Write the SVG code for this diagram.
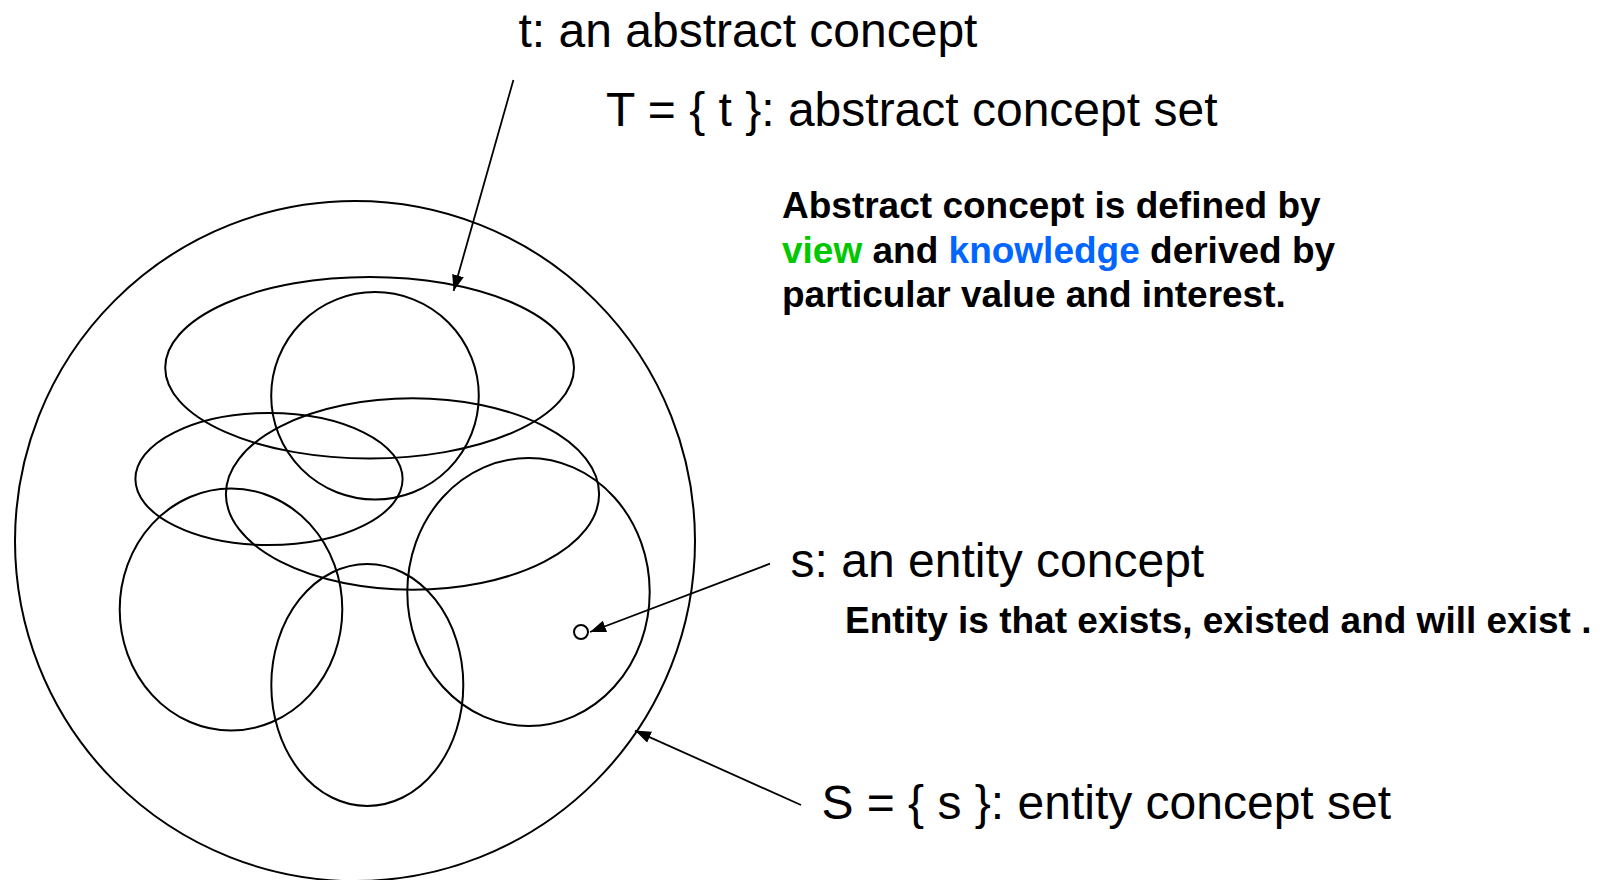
<svg xmlns="http://www.w3.org/2000/svg" width="1610" height="880" viewBox="0 0 1610 880">
  <style>
    .shape { fill: none; stroke: #000; stroke-width: 2; }
    .conn { fill: none; stroke: #000; stroke-width: 1.8; marker-end: url(#arr); }
    .lbl { font-family: "Liberation Sans", Arial, sans-serif; font-size: 48px; fill: #000; }
    .note { font-family: "Liberation Sans", Arial, sans-serif; font-size: 37px; font-weight: bold; fill: #000; }
    .green { fill: #00c800; }
    .blue { fill: #0066ff; }
  </style>
  <defs>
    <marker id="arr" markerWidth="16" markerHeight="12" refX="16" refY="6" orient="auto" markerUnits="userSpaceOnUse">
      <path d="M0,0 L16,6 L0,12 z" fill="#000"/>
    </marker>
  </defs>
  <rect width="1610" height="880" fill="#fff"/>

  <g id="entity-set">
    <circle class="shape" cx="355" cy="541" r="340"/>
  </g>
  <g id="concept-a">
    <ellipse class="shape" cx="369.6" cy="367.7" rx="204.4" ry="90.8"/>
  </g>
  <g id="concept-b">
    <ellipse class="shape" cx="375" cy="395.8" rx="103.8" ry="103.7"/>
  </g>
  <g id="concept-c">
    <ellipse class="shape" cx="269" cy="479" rx="133.6" ry="66"/>
  </g>
  <g id="concept-d">
    <ellipse class="shape" cx="412.5" cy="494" rx="186.6" ry="95.7"/>
  </g>
  <g id="concept-e">
    <ellipse class="shape" cx="231" cy="609.5" rx="111.3" ry="121"/>
  </g>
  <g id="concept-f">
    <ellipse class="shape" cx="367.3" cy="685" rx="96" ry="121"/>
  </g>
  <g id="concept-g">
    <ellipse class="shape" cx="528.5" cy="592" rx="121.2" ry="134"/>
  </g>
  <g id="entity-s">
    <circle class="shape" cx="581" cy="632" r="7"/>
  </g>

  <g id="connectors">
    <line class="conn" x1="513.4" y1="80" x2="453.6" y2="291"/>
    <line class="conn" x1="770" y1="563.7" x2="590" y2="632"/>
    <line class="conn" x1="801" y1="805" x2="635" y2="730.6"/>
  </g>

  <g id="label-t">
    <text class="lbl" x="518.5" y="47">t: an abstract concept</text>
  </g>
  <g id="label-T">
    <text class="lbl" x="606" y="126">T = { t }: abstract concept set</text>
  </g>
  <g id="note-abstract">
    <text class="note" x="782" y="218">Abstract concept is defined by</text>
    <text class="note" x="782" y="262.5"><tspan class="green">view</tspan> and <tspan class="blue">knowledge</tspan> derived by</text>
    <text class="note" x="782" y="307">particular value and interest.</text>
  </g>
  <g id="label-s">
    <text class="lbl" x="790.6" y="577">s: an entity concept</text>
  </g>
  <g id="note-entity">
    <text class="note" x="845" y="633">Entity is that exists, existed and will exist .</text>
  </g>
  <g id="label-S">
    <text class="lbl" x="821.4" y="818.5">S = { s }: entity concept set</text>
  </g>
</svg>
